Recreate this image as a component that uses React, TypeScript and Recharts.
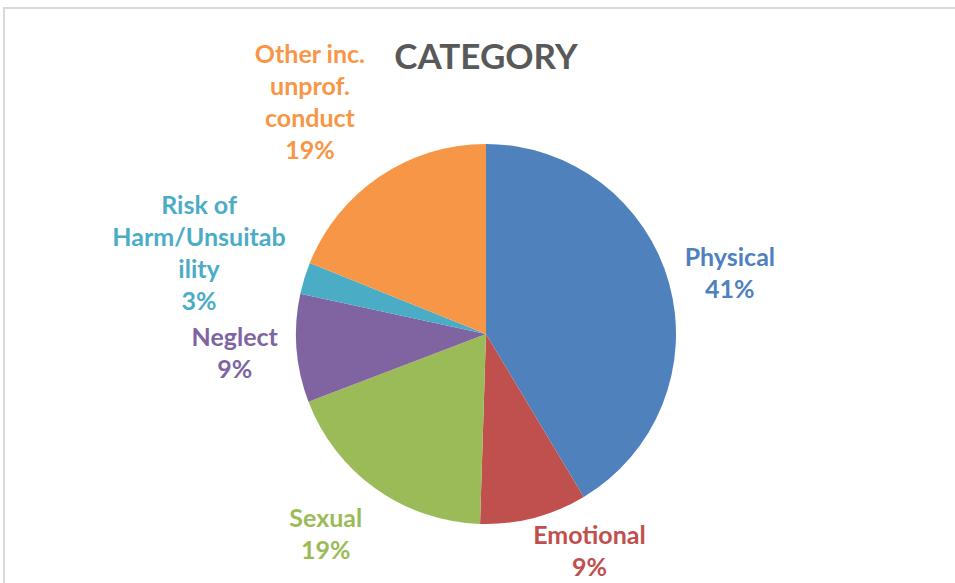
import React from "react";
import { PieChart, Pie, Cell } from "recharts";

// ---- data ----
const categories = [
  "Physical",
  "Emotional",
  "Sexual",
  "Neglect",
  "Risk of Harm/Unsuitability",
  "Other inc. unprof. conduct",
];
const shares = [41.4, 9.1, 18.7, 9.2, 2.7, 18.9];
const labelLines = [
  ["Physical"],
  ["Emotional"],
  ["Sexual"],
  ["Neglect"],
  ["Risk of", "Harm/Unsuitab", "ility"],
  ["Other inc.", "unprof.", "conduct"],
];
const title = "CATEGORY";

// ---- styles ----
const colors = ["#4F81BD", "#C0504D", "#9BBB59", "#8064A2", "#4BACC6", "#F79646"];
const labelNudge = [
  [1, 5],
  [40, -28],
  [-14, -6],
  [0, -1],
  [-5, 5],
  [-11, 12],
];
const FONT = "Lato, 'Open Sans', sans-serif";
const LINE_H = 32;

const data = categories.map((name, i) => ({ name, value: shares[i] }));

const RAD = Math.PI / 180;

function renderLabel(props: any) {
  const { cx, cy, midAngle, outerRadius, index, percent } = props;
  const lines = [...labelLines[index], `${Math.round(percent * 100)}%`];
  const dist = outerRadius + (lines.length > 2 ? 105 : 62);
  const x = cx + dist * Math.cos(midAngle * RAD) + labelNudge[index][0];
  const y = cy - dist * Math.sin(midAngle * RAD) + labelNudge[index][1];
  const n = lines.length;
  return (
    <text
      key={`lbl-${index}`}
      x={x}
      y={y}
      textAnchor="middle"
      fill={colors[index]}
      fontFamily={FONT}
      fontWeight={700}
      fontSize={25}
    >
      {lines.map((l, i) => (
        <tspan key={i} x={x} y={y + (i - (n - 1) / 2) * LINE_H} dominantBaseline="central">
          {l}
        </tspan>
      ))}
    </text>
  );
}

export default function App() {
  return (
    <div style={{ position: "fixed", left: 0, top: 0, width: 955, height: 583, background: "#fff", overflow: "hidden" }}>
      <div
        style={{
          position: "absolute",
          left: 3,
          top: 7,
          width: 952,
          height: 576,
          borderTop: "2px solid #d9d9d9",
          borderLeft: "2px solid #d9d9d9",
          boxSizing: "border-box",
        }}
      />
      <div style={{ position: "absolute", left: 0, top: 0 }}>
        <PieChart width={955} height={583} margin={{ top: 0, right: 0, bottom: 0, left: 0 }}>
          <text
            x={486}
            y={55}
            textAnchor="middle"
            dominantBaseline="central"
            fill="#595959"
            fontFamily={FONT}
            fontWeight={700}
            fontSize={35}
          >
            {title}
          </text>
          <Pie
            data={data}
            dataKey="value"
            nameKey="name"
            cx={486}
            cy={334}
            outerRadius={190}
            startAngle={90}
            endAngle={-270}
            stroke="none"
            labelLine={false}
            label={renderLabel}
            isAnimationActive={false}
          >
            {data.map((d, i) => (
              <Cell key={d.name} fill={colors[i]} />
            ))}
          </Pie>
        </PieChart>
      </div>
    </div>
  );
}
